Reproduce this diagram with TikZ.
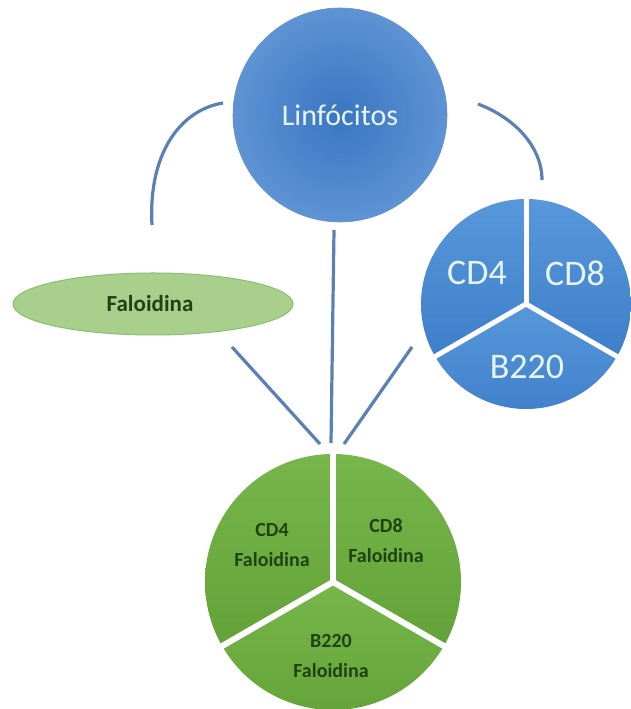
\documentclass[tikz,border=0pt]{standalone}
\usepackage{fontspec}
\setmainfont{Carlito}
\definecolor{linkc}{HTML}{5B80B4}
\definecolor{blueIn}{HTML}{3A76C2}
\definecolor{blueOut}{HTML}{5E93D4}
\definecolor{pieBT}{HTML}{5797DA}
\definecolor{pieBB}{HTML}{3F7FCA}
\definecolor{pieGT}{HTML}{76B64A}
\definecolor{pieGB}{HTML}{62A238}
\definecolor{ellFill}{HTML}{A8D08C}
\definecolor{ellLine}{HTML}{8DBB70}
\definecolor{lightTxt}{HTML}{E8F4F0}
\definecolor{darkTxt}{HTML}{1E4212}
\tikzset{
  link/.style={draw=linkc, line width=3.2pt},
  gap/.style={draw=white, line width=5pt},
  bluetxt/.style={text=lightTxt, font=\fontsize{36}{40}\selectfont},
  greentxt/.style={text=darkTxt, font=\fontsize{20}{30}\selectfont\bfseries, align=center},
}
\begin{document}
\begin{tikzpicture}[x=1pt,y=1pt]
\useasboundingbox (0,0) rectangle (630,709);
\fill[white] (0,0) rectangle (630,709);

% Linfocitos circle
\shade[inner color=blueIn, outer color=blueOut, draw=blueOut!80!gray, line width=0.6pt] (340,594) circle[radius=107];
\node[text=lightTxt, font=\fontsize{30}{34}\selectfont] (linf) at (340,594) {Linfócitos};

% Faloidina ellipse
\draw[fill=ellFill, draw=ellLine, line width=1pt] (153,405) ellipse[x radius=140, y radius=31];
\node[text=darkTxt, font=\fontsize{23}{28}\selectfont\bfseries] (fal) at (150,405) {Faloidina};

% Blue pie
\coordinate (bp) at (526,405);
\foreach \a/\b in {90/210,210/330,330/450}{
  \shade[top color=pieBT, bottom color=pieBB] (bp) -- ++(\a:105) arc[start angle=\a, end angle=\b, radius=105] -- cycle;
}
\foreach \a in {90,210,330}{ \draw[gap] (bp) -- ++(\a:108); }
\node[bluetxt] (cd4) at (477,436) {CD4};
\node[bluetxt] (cd8) at (575,436) {CD8};
\node[bluetxt] (b220) at (527,342) {B220};

% Green pie
\coordinate (gp) at (333,127);
\foreach \a/\b in {90/210,210/330,330/450}{
  \shade[top color=pieGT, bottom color=pieGB] (gp) -- ++(\a:128) arc[start angle=\a, end angle=\b, radius=128] -- cycle;
}
\foreach \a in {90,210,330}{ \draw[gap, line width=6pt] (gp) -- ++(\a:131); }
\node[greentxt] (g1) at (272,164) {CD4\\Faloidina};
\node[greentxt] (g2) at (386,168) {CD8\\Faloidina};
\node[greentxt] (g3) at (331,53) {B220\\Faloidina};

% connector endpoints
\coordinate (la1) at (223,606);
\coordinate (la2) at (152,484);
\coordinate (ra1) at (478,605);
\coordinate (ra2) at (542,529);
\coordinate (v1) at (334,479);
\coordinate (v2) at (331,266);
\coordinate (ld1) at (232,362);
\coordinate (ld2) at (320,265);
\coordinate (rd1) at (412,362);
\coordinate (rd2) at (344,265);

\draw[link] (la1) .. controls (180,599) and (148,555) .. (la2);
\draw[link] (ra1) .. controls (515,591) and (542,562) .. (ra2);
\draw[link] (v1) -- (v2);
\draw[link] (ld1) -- (ld2);
\draw[link] (rd1) -- (rd2);
\end{tikzpicture}
\end{document}
